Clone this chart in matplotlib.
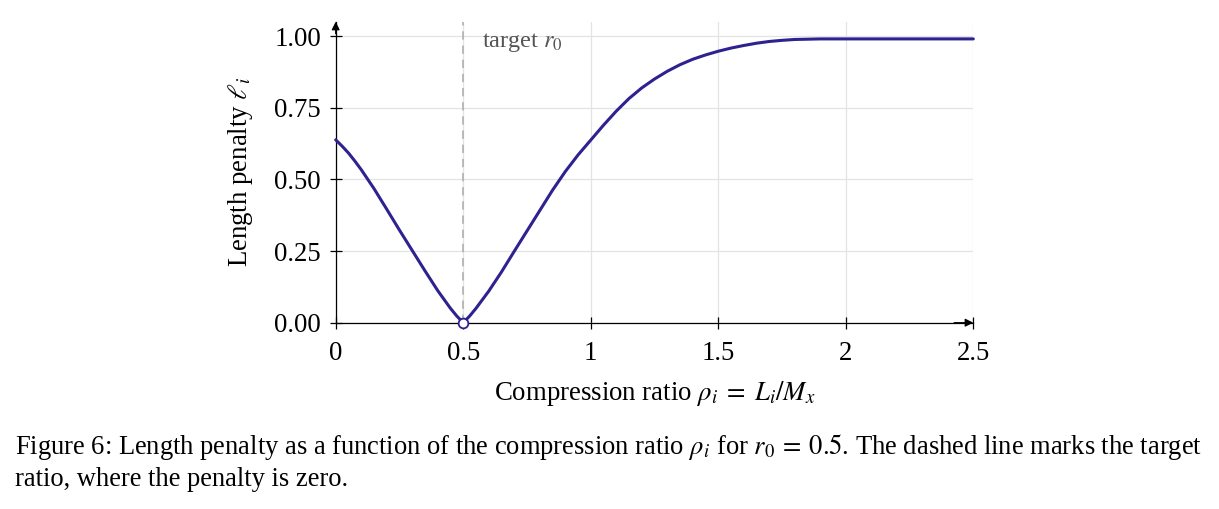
import matplotlib
matplotlib.use("Agg")
import matplotlib.pyplot as plt

plt.rcParams['font.family'] = ['Liberation Serif', 'DejaVu Serif']
plt.rcParams['mathtext.fontset'] = 'stix'

# data
rho = [0.00, 0.025, 0.05, 0.075, 0.10, 0.15, 0.20, 0.25, 0.30, 0.35, 0.40, 0.45, 0.475, 0.50,
       0.525, 0.55, 0.60, 0.65, 0.70, 0.75, 0.80, 0.85, 0.90, 0.95, 1.00,
       1.05, 1.10, 1.15, 1.20, 1.25, 1.30, 1.35, 1.40, 1.45, 1.50, 1.55,
       1.60, 1.65, 1.70, 1.75, 1.80, 1.85, 1.90, 2.00, 2.50]
penalty = [0.638, 0.616, 0.592, 0.564, 0.534, 0.468, 0.396, 0.323, 0.252, 0.181, 0.112, 0.050, 0.023, 0.000,
           0.023, 0.050, 0.110, 0.177, 0.249, 0.320, 0.391, 0.462, 0.527, 0.585, 0.637,
           0.689, 0.738, 0.782, 0.819, 0.850, 0.877, 0.900, 0.919, 0.934, 0.947, 0.958,
           0.967, 0.975, 0.981, 0.985, 0.988, 0.989, 0.990, 0.990, 0.990]
r0 = 0.5
xticks = [0, 0.5, 1, 1.5, 2, 2.5]
xticklabels = ['0', '0.5', '1', '1.5', '2', '2.5']
yticks = [0.0, 0.25, 0.5, 0.75, 1.0]
yticklabels = ['0.00', '0.25', '0.50', '0.75', '1.00']

W, H = 1219, 509
fig = plt.figure(figsize=(W / 100, H / 100), dpi=100)
ax = fig.add_axes([335.7 / W, 1 - 322.7 / H, (973.3 - 335.7) / W, (322.7 - 21.7) / H])

line_color = '#2e2190'
fs = 19.3

ax.set_xlim(0, 2.5)
ax.set_ylim(0, 1.05)
ax.set_xticks(xticks)
ax.set_xticklabels(xticklabels)
ax.set_yticks(yticks)
ax.set_yticklabels(yticklabels)
ax.tick_params(direction='inout', length=9, width=0.9, labelsize=fs, colors='black')
ax.tick_params(axis='x', pad=9)
ax.tick_params(axis='y', pad=6)
ax.grid(True, color='#e3e3e3', lw=0.9)
ax.set_axisbelow(True)
for s in ['top', 'right']:
    ax.spines[s].set_visible(False)
for s in ['left', 'bottom']:
    ax.spines[s].set_linewidth(0.9)

# axis arrows
ax.annotate('', xy=(1.0, 0), xycoords='axes fraction', xytext=(0.97, 0),
            arrowprops=dict(arrowstyle='-|>', color='black', lw=0.9, mutation_scale=12,
                            shrinkA=0, shrinkB=0), annotation_clip=False)
ax.annotate('', xy=(0, 1.0), xycoords='axes fraction', xytext=(0, 0.96),
            arrowprops=dict(arrowstyle='-|>', color='black', lw=0.9, mutation_scale=12,
                            shrinkA=0, shrinkB=0), annotation_clip=False)

ax.axvline(r0, color='#b0b0b0', lw=1.2, ls=(0, (5, 3.5)), zorder=1.5)
ax.text(0.575, 0.962, r'target $r_0$', color='#555555', fontsize=17.5, ha='left', va='baseline')

ax.plot(rho, penalty, color=line_color, lw=2.2, zorder=3, clip_on=False,
        solid_joinstyle='round', solid_capstyle='round')
ax.plot([r0], [0], marker='o', ms=7, mfc='white', mec=line_color, mew=1.3, zorder=4, clip_on=False)

ax.set_xlabel(r'Compression ratio $\rho_i\;=\;L_i/M_x$', fontsize=fs, labelpad=9)
ax.set_ylabel(r'Length penalty $\ell_i$', fontsize=fs, labelpad=14)

cap_fs = 19.1
fig.text(15 / W, 1 - 447 / H, r'Figure 6: Length penalty as a function of the compression ratio $\rho_i$ for $r_0\:=\:0.5$. The dashed line marks the target',
         fontsize=cap_fs, ha='left', va='center')
fig.text(15 / W, 1 - 479 / H, 'ratio, where the penalty is zero.', fontsize=cap_fs, ha='left', va='center')

fig.savefig('out.png', dpi=100)
